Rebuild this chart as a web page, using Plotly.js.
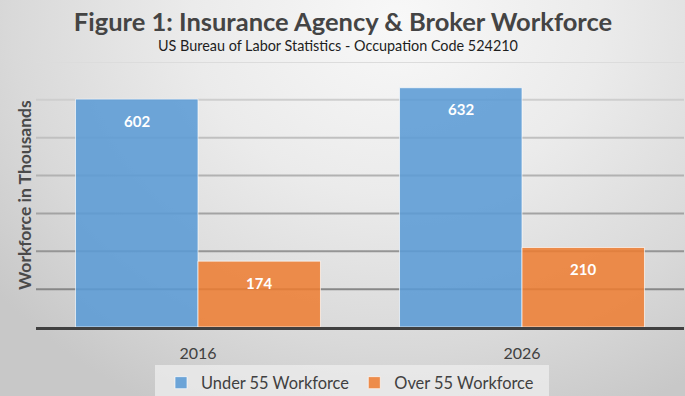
<!DOCTYPE html>
<html>
<head>
<meta charset="utf-8">
<script src="https://cdn.plot.ly/plotly-3.0.1.min.js"></script>
<style>
html,body{margin:0;padding:0;}
body{width:685px;height:396px;overflow:hidden;position:relative;
background:radial-gradient(ellipse 75% 110% at 58% 5%, #f8f8f8 0%, #ebebeb 40%, #d9d9d9 75%, #c8c8c8 100%);}
#chart{width:685px;height:396px;}
</style>
</head>
<body>
<div id="chart"></div>
<script>
const years = ['2016', '2026'];
const under55 = [602, 632];
const over55 = [174, 210];
const seriesNames = ['Under 55 Workforce', 'Over 55 Workforce'];
const gridValues = [100, 200, 300, 400, 500, 600, 700];

const FONT = 'Lato, "Open Sans", sans-serif';
const series = [under55, over55];
const colors = ['rgba(91,155,213,0.88)', 'rgba(237,125,49,0.86)'];

const data = series.map((vals, i) => ({
  type: 'bar', name: seriesNames[i], x: years, y: vals,
  marker: {color: colors[i], line: {color: 'rgba(255,255,255,0.65)', width: 1}},
  hoverinfo: 'none'
}));

// value labels placed a little below each bar top (x = category index)
const BAR_HALF_PX = 61;
const labels = [];
series.forEach((vals, i) => {
  vals.forEach((v, j) => {
    labels.push({
      x: j, y: v, xref: 'x', yref: 'y', text: String(v), showarrow: false,
      xanchor: 'center', yanchor: 'middle', xshift: (i === 0 ? -1 : 1) * BAR_HALF_PX, yshift: -21.5,
      font: {family: FONT, size: 15, color: '#ffffff', weight: 'bold'}
    });
  });
});

// gridlines fade from darker (bottom) to lighter (top)
const shapes = gridValues.map((v, i) => {
  const t = i / (gridValues.length - 1);
  const c = Math.round(135 + t * 85);
  return {type: 'line', xref: 'paper', x0: 0, x1: 1, yref: 'y', y0: v, y1: v,
          line: {color: `rgb(${c},${c},${c})`, width: 2}, layer: 'below'};
});
// legend background box
shapes.push({type: 'rect', xref: 'paper', yref: 'paper',
             x0: (155 - 36) / 648, x1: (549 - 36) / 648, y0: -(400 - 327) / 265, y1: -(365 - 327) / 265,
             fillcolor: 'rgba(238,238,238,0.75)', line: {width: 0}, layer: 'below'});

const layout = {
  width: 685, height: 396,
  paper_bgcolor: 'rgba(0,0,0,0)', plot_bgcolor: 'rgba(0,0,0,0)',
  margin: {l: 36, r: 1, t: 62, b: 69, autoexpand: false},
  barmode: 'group', bargap: 0.244, bargroupgap: 0,
  showlegend: true,
  title: {text: 'Figure 1: Insurance Agency & Broker Workforce',
          font: {family: FONT, size: 25.5, color: '#444444', weight: 'bold'},
          x: 0.5007, xanchor: 'center', y: 0.945, yanchor: 'middle', yref: 'container'},
  annotations: [
    {text: 'US Bureau of Labor Statistics - Occupation Code 524210',
     xref: 'paper', yref: 'paper', x: (337.5 - 36) / 648, y: 1.0 + (62 - 45.5) / 265,
     xanchor: 'center', yanchor: 'middle', showarrow: false,
     font: {family: FONT, size: 14.4, color: '#1e1e1e'}},
    {text: 'Workforce in Thousands', textangle: -90,
     xref: 'paper', yref: 'paper', x: (24.5 - 36) / 648, y: 0.5 - 1 / 265,
     xanchor: 'center', yanchor: 'middle', showarrow: false,
     font: {family: FONT, size: 17.5, color: '#4a4a4a', weight: 'bold'}}
  ].concat(labels),
  xaxis: {type: 'category', showgrid: false, zeroline: false,
          showline: true, linecolor: '#404040', linewidth: 3,
          ticks: '', tickfont: {family: FONT, size: 16, color: '#404040'},
          ticklabelstandoff: 10},
  yaxis: {range: [0, 700], showgrid: false, zeroline: false, showticklabels: false,
          ticks: '', fixedrange: true},
  shapes: shapes,
  legend: {orientation: 'h', x: (161 - 36) / 648, xanchor: 'left', y: -(365.5 - 327) / 265, yanchor: 'top',
           bgcolor: 'rgba(0,0,0,0)',
           font: {family: FONT, size: 16.4, color: '#404040'},
           itemwidth: 30, tracegroupgap: 0}
};

Plotly.newPlot('chart', data, layout, {displayModeBar: false, staticPlot: true});
</script>
</body>
</html>
